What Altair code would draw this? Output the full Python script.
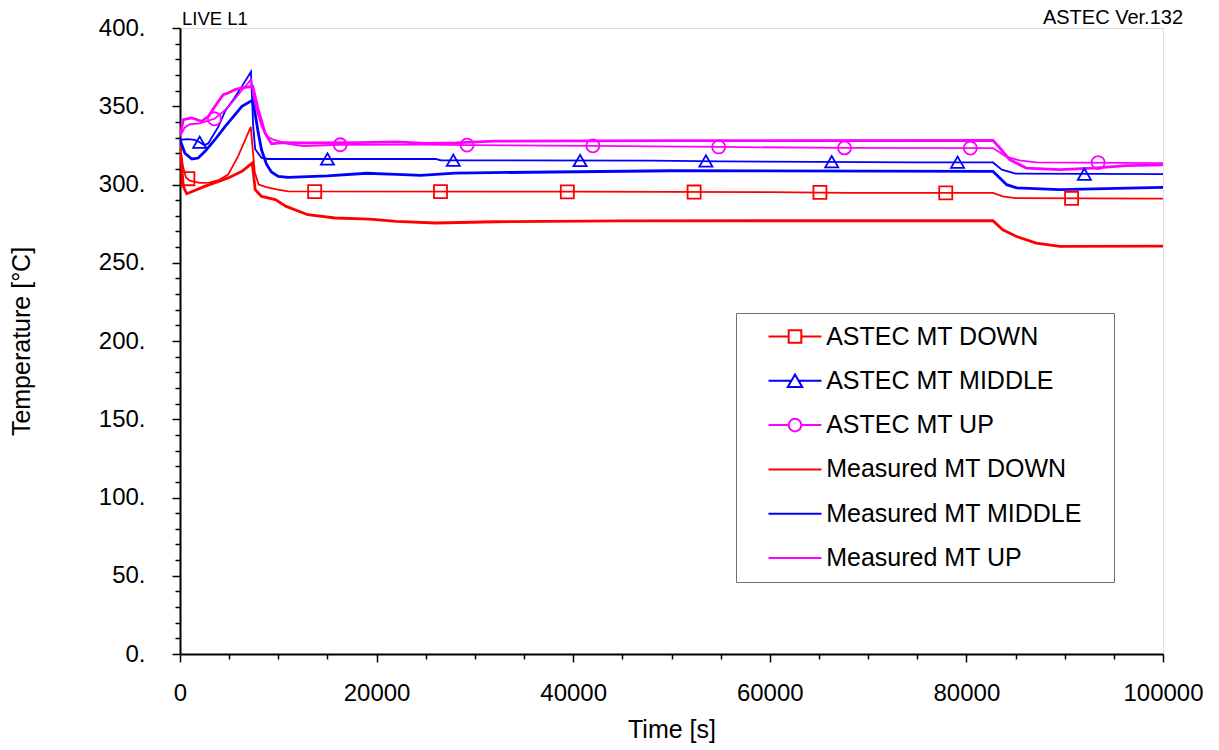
import altair as alt
import pandas as pd

SERIES = ["ASTEC MT DOWN", "ASTEC MT MIDDLE", "ASTEC MT UP",
          "Measured MT DOWN", "Measured MT MIDDLE", "Measured MT UP"]
COLORS = ["#FF0000", "#0000FF", "#FF00FF", "#FF0000", "#0000FF", "#FF00FF"]
KIND = ["ASTEC", "ASTEC", "ASTEC", "Measured", "Measured", "Measured"]
MARKERS = ["square", "triangle-up", "circle"]

TITLE_LEFT = "LIVE L1"
TITLE_RIGHT = "ASTEC Ver.132"
X_TITLE = "Time [s]"
Y_TITLE = "Temperature [°C]"

# ---- ASTEC (calculated) curves ----
astec_down_t = [0, 300, 600, 1000, 2000, 3000, 4000, 4900, 5900, 6600, 7200, 7600, 8000, 8700,
                9700, 11000, 40000, 60000, 68000, 82700, 83700, 85000, 100000]
astec_down_v = [325.4, 311.6, 304.5, 302.5, 301.0, 301.2, 303.0, 306.3, 318.0, 328.0, 336.8, 308.0,
                300.0, 298.5, 297.0, 295.6, 295.4, 295.1, 294.7, 294.7, 292.4, 291.3, 291.0]

astec_mid_t = [0, 800, 1500, 2000, 2500, 2900, 3900, 4600, 5500, 6300, 7220, 7450, 7650, 8300,
               9000, 26000, 26500, 48000, 55000, 75000, 82700, 83600, 85000, 100000]
astec_mid_v = [328.6, 329.0, 328.5, 327.0, 325.0, 326.5, 337.0, 347.0, 355.0, 362.7, 372.0, 337.0,
               322.5, 317.0, 316.3, 316.3, 315.5, 315.2, 314.8, 314.2, 314.1, 309.5, 306.9, 306.6]

astec_up_t = [0, 500, 1000, 2000, 3500, 4500, 5100, 6000, 7220, 7600, 8300, 8800, 9500, 11000,
              12500, 16300, 25000, 29200, 42000, 54800, 67600, 82700, 84000, 85400, 87100, 100000]
astec_up_v = [330.8, 336.5, 338.5, 339.0, 342.0, 347.0, 350.9, 358.0, 367.0, 352.0, 337.2, 331.0,
              328.6, 326.0, 324.6, 325.4, 325.5, 325.2, 324.7, 324.0, 323.4, 323.3, 318.0, 315.4,
              314.1, 313.6]

# ---- Measured curves ----
meas_down_t = [0, 340, 680, 1500, 2500, 3500, 4900, 6300, 7350, 7650, 8300, 9700, 10800, 13000,
               15800, 19300, 22000, 26000, 32000, 45000, 82700, 83700, 85100, 87100, 89500, 100000]
meas_down_v = [324.4, 298.8, 294.1, 296.2, 298.8, 301.0, 304.2, 308.4, 313.7, 296.7, 292.4, 290.3,
               286.0, 280.7, 278.6, 277.9, 276.5, 275.4, 276.2, 276.8, 276.9, 271.1, 266.8, 262.6,
               260.4, 260.6]

meas_mid_t = [0, 500, 1200, 1850, 2550, 3550, 4600, 6300, 7350, 7650, 7960, 8300, 8800, 9300,
              10000, 11000, 15000, 19000, 22000, 24500, 28000, 38000, 50000, 82700, 83400, 84100,
              85100, 89500, 100000]
meas_mid_v = [328.6, 320.0, 316.3, 316.9, 321.2, 328.6, 337.1, 350.0, 353.8, 345.0, 333.0, 322.0,
              313.0, 308.0, 305.2, 304.6, 305.5, 307.2, 306.5, 305.8, 307.3, 308.0, 308.8, 308.4,
              304.1, 299.9, 297.8, 296.7, 298.1]

meas_up_t = [0, 340, 1190, 2200, 2900, 3560, 4400, 4900, 5600, 6300, 7400, 7960, 8650, 9300,
             10500, 12500, 18000, 22000, 25000, 28000, 32000, 50000, 82700, 83400, 84400, 86100,
             89500, 92900, 96300, 100000]
meas_up_v = [330.8, 341.4, 342.5, 340.4, 343.6, 350.0, 357.4, 358.5, 360.6, 361.7, 362.7, 347.8,
             333.0, 326.0, 326.8, 326.6, 326.8, 327.2, 326.3, 326.6, 327.7, 328.0, 328.2, 323.3,
             315.9, 310.5, 309.5, 310.5, 312.0, 312.6]

# ---- markers on the ASTEC curves ----
mark_down_t = [800, 13700, 26500, 39400, 52300, 65100, 77900, 90700]
mark_down_v = [303.7, 295.4, 295.4, 295.3, 295.2, 295.0, 294.7, 291.2]
mark_mid_t = [2000, 15000, 27800, 40700, 53500, 66300, 79100, 92000]
mark_mid_v = [327.0, 316.3, 315.5, 315.3, 315.0, 314.6, 314.2, 306.6]
mark_up_t = [3500, 16300, 29200, 42000, 54800, 67600, 80400, 93400]
mark_up_v = [342.0, 325.4, 325.2, 324.7, 324.0, 323.4, 323.3, 314.0]

X_TICKS = list(range(0, 100001, 5000))
Y_TICKS = list(range(0, 401, 10))

LINE_T = [astec_down_t, astec_mid_t, astec_up_t, meas_down_t, meas_mid_t, meas_up_t]
LINE_V = [astec_down_v, astec_mid_v, astec_up_v, meas_down_v, meas_mid_v, meas_up_v]
MARK_T = [mark_down_t, mark_mid_t, mark_up_t]
MARK_V = [mark_down_v, mark_mid_v, mark_up_v]

rows = []
for name, kind, ts, vs in zip(SERIES, KIND, LINE_T, LINE_V):
    for t, v in zip(ts, vs):
        rows.append({"series": name, "kind": kind, "t": t, "T": v})
lines_df = pd.DataFrame(rows)

# one row per series for the legend key only (placed below the visible range, clipped away)
legend_df = pd.DataFrame({"series": SERIES, "t": [50000] * 6, "T": [-1000] * 6})

FONT = "Liberation Sans"

# legend key glyphs: line segment with the marker in the middle
P_SQ = "M-2.65,0H-0.63M0.63,0H2.65M-0.63,-0.63H0.63V0.63H-0.63Z"
P_TRI = "M-2.65,0H-0.36M0.36,0H2.65M0,-0.62L0.72,0.62H-0.72Z"
P_CIR = ("M-2.65,0H-0.63M0.63,0H2.65M0.63,0A0.63,0.63,0,1,1,-0.63,0"
         "A0.63,0.63,0,1,1,0.63,0Z")
P_LINE = "M-2.65,0H2.65"
LEGEND_SHAPES = [P_SQ, P_TRI, P_CIR, P_LINE, P_LINE, P_LINE]

legend = alt.Legend(
    title=None, orient="none", legendX=556, legendY=285,
    padding=11, rowPadding=18.3, symbolSize=400, symbolStrokeWidth=2,
    symbolOffset=35.5, labelOffset=18.7, labelFont=FONT, labelFontSize=25,
    labelColor="black", labelLimit=600, strokeColor="#707070", fillColor="white",
    symbolFillColor="transparent", symbolOpacity=1,
    labelExpr="datum.label + '\u00a0\u00a0\u00a0\u200b'",
)

color_scale = alt.Scale(domain=SERIES, range=COLORS)
color_enc = alt.Color("series:N", scale=color_scale, legend=legend)

x_enc = alt.X("t:Q", scale=alt.Scale(domain=[0, 100000], nice=False), title=X_TITLE,
              axis=alt.Axis(values=X_TICKS, tickCount=60, grid=False, labelFlush=False, labelOverlap=False,
                            labelExpr="datum.value % 20000 === 0 ? '' + datum.value : ''",
                            tickSize={"condition": {"test": "datum.value % 20000 === 0", "value": 8}, "value": 5},
                            labelPadding=19, labelFont=FONT, labelFontSize=24, labelColor="black",
                            titleFont=FONT, titleFontSize=25, titleFontWeight="normal",
                            titleColor="black", titlePadding=12,
                            domainColor="black", domainWidth=2, tickColor="black", tickWidth=1.5))
y_enc = alt.Y("T:Q", scale=alt.Scale(domain=[0, 400], nice=False), title=Y_TITLE,
              axis=alt.Axis(values=Y_TICKS, tickCount=100, grid=False, labelOverlap=False,
                            labelExpr="datum.value % 50 === 0 ? datum.value + '.' : ''",
                            tickSize={"condition": {"test": "datum.value % 50 === 0", "value": 8}, "value": 5},
                            labelPadding=27, labelFont=FONT, labelFontSize=24, labelColor="black",
                            titleFont=FONT, titleFontSize=25, titleFontWeight="normal",
                            titleColor="black", titlePadding=64,
                            domainColor="black", domainWidth=2, tickColor="black", tickWidth=1.5))

lines = alt.Chart(lines_df).mark_line(clip=True).encode(
    x=x_enc, y=y_enc, color=color_enc,
    strokeWidth=alt.StrokeWidth("kind:N", scale=alt.Scale(domain=["ASTEC", "Measured"], range=[1.8, 2.8]),
                                legend=None),
    detail="series:N",
)

marker_layers = []
for name, mk, ts, vs in zip(SERIES[:3], MARKERS, MARK_T, MARK_V):
    mdf = pd.DataFrame({"series": [name] * len(ts), "t": ts, "T": vs})
    marker_layers.append(
        alt.Chart(mdf).mark_point(shape=mk, filled=False, size=170, strokeWidth=1.8, opacity=1).encode(
            x="t:Q", y="T:Q", color=color_enc)
    )

legend_key = alt.Chart(legend_df).mark_point(filled=False, size=400, strokeWidth=2, opacity=1, clip=True).encode(
    x="t:Q", y="T:Q", color=color_enc,
    shape=alt.Shape("series:N", scale=alt.Scale(domain=SERIES, range=LEGEND_SHAPES), legend=legend),
)

t_left = alt.Chart(pd.DataFrame({"label": [TITLE_LEFT]})).mark_text(
    align="left", baseline="alphabetic", font=FONT, fontSize=18.5, color="black"
).encode(x=alt.value(2), y=alt.value(-3), text="label:N")

t_right = alt.Chart(pd.DataFrame({"label": [TITLE_RIGHT]})).mark_text(
    align="right", baseline="alphabetic", font=FONT, fontSize=20, color="black"
).encode(x=alt.value(1003), y=alt.value(-4), text="label:N")

chart = alt.layer(lines, *marker_layers, legend_key, t_left, t_right).properties(
    width=983, height=626,
    padding={"left": 172, "top": 20, "right": 44, "bottom": 92},
    autosize=alt.AutoSizeParams(type="none"),
).configure_view(stroke="#808080", strokeWidth=2).configure(background="white")

chart.save("out.html", embed_options={"renderer": "svg", "actions": False})
